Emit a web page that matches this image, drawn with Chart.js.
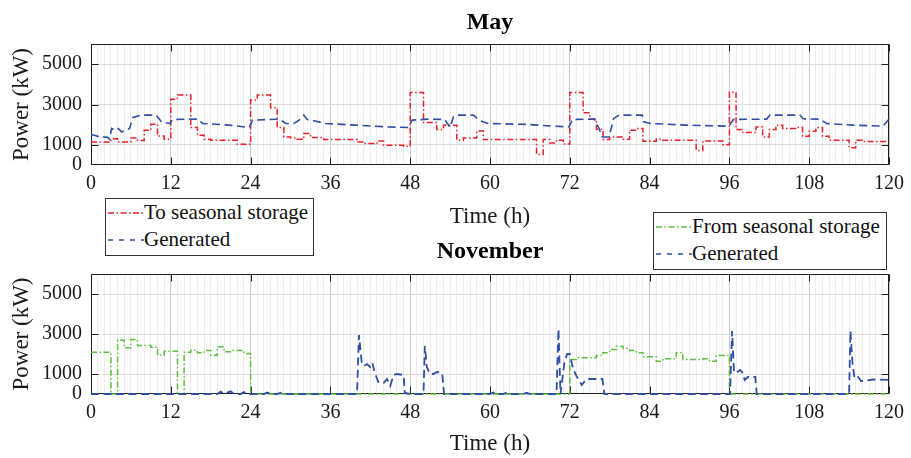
<!DOCTYPE html>
<html>
<head>
<meta charset="utf-8">
<script src="https://cdn.jsdelivr.net/npm/chart.js@4/dist/chart.umd.min.js"></script>
<style>
  html, body { margin: 0; padding: 0; background: #fff; }
  #wrap { position: relative; width: 911px; height: 458px; overflow: hidden; font-family: "Liberation Serif", serif; }
  #wrap canvas { position: absolute; left: 0; }
  #may { top: 0; }
  #nov { top: 232px; }
  .legend { position: absolute; background: #fff; border: 1px solid #333; box-sizing: border-box; font-size: 21px; color: #111; }
  .row { position: absolute; left: 1px; height: 27px; display: flex; align-items: center; white-space: nowrap; line-height: 27px; }
  .row svg { flex: none; display: block; }
</style>
</head>
<body>
<div id="wrap">
  <canvas id="may" width="911" height="232"></canvas>
  <canvas id="nov" width="911" height="226"></canvas>

  <div class="legend" style="left:105px; top:198px; width:209px; height:58px;">
    <div class="row" style="top:0px;">
      <svg width="37" height="10"><line x1="1" y1="5" x2="37" y2="5" stroke="#e8202b" stroke-width="1.5" stroke-dasharray="6 2.5 1.5 2.5"/></svg>
      <span>To seasonal storage</span>
    </div>
    <div class="row" style="top:27px;">
      <svg width="37" height="10"><line x1="1" y1="5" x2="37" y2="5" stroke="#2f4fa3" stroke-width="1.6" stroke-dasharray="5 6"/></svg>
      <span>Generated</span>
    </div>
  </div>

  <div class="legend" style="left:653px; top:212px; width:234px; height:58px;">
    <div class="row" style="top:0px;">
      <svg width="37" height="10"><line x1="1" y1="5" x2="37" y2="5" stroke="#5dbf3c" stroke-width="1.5" stroke-dasharray="6 2.5 1.5 2.5"/></svg>
      <span>From seasonal storage</span>
    </div>
    <div class="row" style="top:27px;">
      <svg width="37" height="10"><line x1="1" y1="5" x2="37" y2="5" stroke="#2f4fa3" stroke-width="1.6" stroke-dasharray="5 6"/></svg>
      <span>Generated</span>
    </div>
  </div>
</div>

<script>
// Axis ticks
const xTickLabels = [0, 12, 24, 36, 48, 60, 72, 84, 96, 108, 120];
const yTickValues = [0, 1000, 3000, 5000];

// May: power sent to seasonal storage (hourly steps; each value holds until the next time)
const mayStorageT = [0, 3, 4, 6, 7, 8, 9, 10, 11, 12, 13, 15, 16, 17, 18, 22, 24, 25, 27, 28, 29, 30, 31, 32, 33, 35,
  40, 41, 43, 44, 47, 48, 50, 52, 53, 55, 56, 58, 59, 67, 68, 69, 70, 71, 72, 74, 75, 76, 77, 78, 80, 81, 82, 83,
  85, 86, 91, 92, 95, 96, 97, 98, 100, 101, 102, 103, 104, 106, 107, 108, 109, 110, 111, 114, 115, 116, 120];
const mayStorageP = [1140, 1300, 1140, 1340, 1220, 1725, 2025, 1440, 1275, 3260, 3475, 1860, 1475, 1275, 1225, 1025, 3225, 3475, 2840, 1860, 1390, 1340, 1275, 1560, 1360, 1260,
  1140, 1060, 1190, 975, 925, 3590, 2110, 1760, 1975, 1225, 1340, 1690, 1260, 525, 1260, 1090, 1225, 1040, 3590, 2590, 2275, 1775, 1260, 1390, 1275, 1725, 1810, 1175,
  1290, 1225, 725, 1190, 1000, 3610, 1760, 1610, 1890, 1390, 1760, 1975, 1810, 1860, 1425, 1675, 1860, 1425, 1225, 860, 1225, 1160, 1160];

// May: generated power
const mayGenT = [0, 0.5, 1, 1.5, 2, 2.5, 2.8, 3.1, 3.6, 4.1, 4.6, 5.1, 5.8, 6.3, 7.6, 9.8, 10.6, 11.8, 12.3, 16.1, 16.8, 20.8, 23.8, 24.3,
  28.3, 29.3, 30.5, 31.3, 32, 32.5, 33.5, 35.3, 39.8, 44.7, 47.7, 48.3, 50.7, 53.2, 54, 54.5, 55, 57.5, 58.5, 59.7, 65.7, 69.7,
  71.9, 72.4, 75.7, 76.4, 76.9, 77.9, 78.6, 79.4, 82.9, 83.1, 84.1, 89.6, 95.9, 96.6, 101.6, 102.1, 106.6, 107.1, 109.6, 110.6,
  114.6, 119.1, 120];
const mayGenP = [1510, 1480, 1420, 1450, 1380, 1370, 1280, 1810, 1720, 1810, 1640, 1720, 1810, 2360, 2475, 2475, 2140, 2060, 2260, 2275, 2060, 1975, 1860, 2225,
  2275, 2060, 2060, 2225, 2475, 2260, 2190, 2060, 1975, 1890, 1860, 2225, 2275, 2260, 1860, 2390, 2475, 2475, 2190, 2060, 2010, 1925,
  1890, 2260, 2275, 1810, 1390, 1390, 2310, 2475, 2475, 2140, 2060, 1975, 1925, 2260, 2275, 2475, 2475, 2290, 2275, 2060,
  1975, 1925, 2275];

// November: power drawn from seasonal storage (hourly steps)
const novSupplyT = [0, 3, 4, 5, 6, 7, 9, 10, 11, 13, 14, 15, 16, 17, 18, 19, 20, 21, 23, 24, 72, 73, 76, 77, 78, 79, 80, 81, 82, 83,
  85, 86, 88, 89, 92, 93, 94, 96, 120];
const novSupplyP = [2090, 0, 2690, 2310, 2725, 2425, 2340, 1940, 2140, 0, 2090, 2190, 2060, 2175, 1940, 2360, 2110, 2175, 2025, 0, 1725, 1810, 1925, 2060, 2225, 2390, 2275, 2175, 2060, 1860,
  1640, 1760, 2060, 1725, 1760, 1640, 1925, 0, 0];

// November: generated power
const novGenT = [0, 19, 19.5, 20, 21, 21.5, 22.5, 23, 23.5, 26, 26.5, 27, 28, 28.5, 29,
  40, 40.3, 40.7, 41, 41.5, 42, 42.3, 42.7, 43.2, 44, 44.5, 45, 45.5, 46, 47, 47.2, 48,
  50, 50.2, 50.5, 51, 51.5, 52, 52.8, 53.1, 60, 60.5, 61, 62, 62.5, 63, 65, 65.5, 66,
  70, 70.3, 70.6, 71.2, 71.6, 72, 72.5, 73, 73.8, 74.5, 76.9, 77.2,
  96.1, 96.4, 96.7, 97, 97.6, 98, 98.3, 98.8, 99.9, 100.1,
  114, 114.2, 114.5, 114.8, 115.3, 115.8, 117.6, 120];
const novGenP = [0, 0, 120, 0, 130, 0, 0, 100, 0, 0, 80, 0, 0, 60, 0,
  0, 2950, 1600, 1400, 1500, 1350, 1550, 1050, 600, 550, 750, 400, 950, 1000, 950, 50, 0,
  0, 2400, 1350, 1000, 1000, 1100, 1050, 0, 0, 80, 0, 0, 70, 0, 0, 60, 0,
  0, 3250, 0, 1600, 2000, 2000, 1250, 900, 450, 750, 750, 0,
  0, 3150, 1100, 1050, 1200, 1050, 700, 850, 850, 0,
  0, 3150, 1600, 810, 890, 640, 725, 700];

const SERIF = '"Liberation Serif", "Times New Roman", serif';
const RED = '#e8202b', BLUE = '#2f4fa3', GREEN = '#5dbf3c';
const DASH_DOT = [6, 2.5, 1.5, 2.5];
const DASHED = [8, 4.5];

const points = (ts, vs) => ts.map((t, i) => ({ x: t, y: vs[i] }));

// Box around the plot area with inward tick marks; drawn under the data lines
const framePlugin = {
  id: 'frame',
  beforeDatasetsDraw(chart) {
    const { ctx, chartArea: a, scales: { x, y } } = chart;
    const L = Math.round(a.left) + 0.5, R = Math.round(a.right) - 0.5;
    const T = Math.round(a.top) + 0.5, B = Math.round(a.bottom) - 0.5;
    const len = 7;
    ctx.save();
    ctx.strokeStyle = '#1e1e1e';
    ctx.lineWidth = 1;
    ctx.strokeRect(L, T, R - L, B - T);
    ctx.beginPath();
    xTickLabels.forEach(v => {
      const px = Math.round(x.getPixelForValue(v)) + 0.5;
      ctx.moveTo(px, B); ctx.lineTo(px, B - len);
      ctx.moveTo(px, T); ctx.lineTo(px, T + len);
    });
    yTickValues.forEach(v => {
      if (v === 0) return;
      const py = Math.round(y.getPixelForValue(v)) + 0.5;
      ctx.moveTo(L, py); ctx.lineTo(L + len, py);
      ctx.moveTo(R, py); ctx.lineTo(R - len, py);
    });
    ctx.stroke();
    ctx.restore();
  }
};

function makeChart(canvasId, cfg) {
  return new Chart(document.getElementById(canvasId), {
    type: 'line',
    data: { datasets: cfg.datasets },
    options: {
      responsive: false,
      animation: false,
      events: [],
      layout: { padding: { left: 0, right: 18, top: 0, bottom: 0 } },
      elements: { point: { radius: 0 }, line: { tension: 0 } },
      datasets: { line: { clip: 3 } },
      plugins: {
        legend: { display: false },
        tooltip: { enabled: false },
        title: {
          display: true, text: cfg.title, fullSize: false, color: '#000',
          font: { family: SERIF, size: 24, weight: 'bold' },
          padding: cfg.titlePad
        }
      },
      scales: {
        x: {
          type: 'linear', min: 0, max: 120,
          ticks: {
            stepSize: 1, maxTicksLimit: 200, autoSkip: false, maxRotation: 0, minRotation: 0,
            padding: 7, color: '#1a1a1a', font: { family: SERIF, size: 20 },
            callback: v => xTickLabels.includes(v) ? String(v) : ''
          },
          grid: {
            drawTicks: false, lineWidth: 1,
            color: c => (c.tick && xTickLabels.includes(c.tick.value)) ? '#c9c9c9' : '#ececec'
          },
          border: { display: false },
          title: {
            display: true, text: 'Time (h)', color: '#1a1a1a',
            font: { family: SERIF, size: 23 }, padding: { top: 0, bottom: cfg.xTitlePad }
          },
          afterFit: s => { s.height = cfg.xAxisHeight; }
        },
        y: {
          type: 'linear', min: 0, max: 6000,
          afterBuildTicks: s => { s.ticks = yTickValues.map(v => ({ value: v })); },
          ticks: {
            padding: 9, color: '#1a1a1a', font: { family: SERIF, size: 20 },
            callback: v => String(v)
          },
          grid: {
            drawTicks: false, lineWidth: 1,
            color: c => (c.tick && c.tick.value === 0) ? 'rgba(0,0,0,0)' : '#dcdcdc'
          },
          border: { display: false },
          title: {
            display: true, text: 'Power (kW)', color: '#1a1a1a',
            font: { family: SERIF, size: 23 }, padding: { top: 8, bottom: 0 }
          },
          afterFit: s => { s.width = 91; }
        }
      }
    },
    plugins: [framePlugin]
  });
}

makeChart('may', {
  title: 'May',
  titlePad: { top: 8, bottom: 7.2 },
  xAxisHeight: 67,
  xTitlePad: 1.2,
  datasets: [
    { label: 'Generated', data: points(mayGenT, mayGenP), borderColor: BLUE, borderWidth: 1.6,
      borderDash: DASHED, fill: false, order: 0 },
    { label: 'To seasonal storage', data: points(mayStorageT, mayStorageP), borderColor: RED, borderWidth: 1.5,
      borderDash: DASH_DOT, stepped: true, fill: false, order: 1 }
  ]
});

makeChart('nov', {
  title: 'November',
  titlePad: { top: 5.6, bottom: 7.6 },
  xAxisHeight: 64,
  xTitlePad: 0.2,
  datasets: [
    { label: 'Generated', data: points(novGenT, novGenP), borderColor: BLUE, borderWidth: 1.8,
      borderDash: DASHED, fill: false, order: 0 },
    { label: 'From seasonal storage', data: points(novSupplyT, novSupplyP), borderColor: GREEN, borderWidth: 1.5,
      borderDash: DASH_DOT, stepped: true, fill: false, order: 1 }
  ]
});
</script>
</body>
</html>
